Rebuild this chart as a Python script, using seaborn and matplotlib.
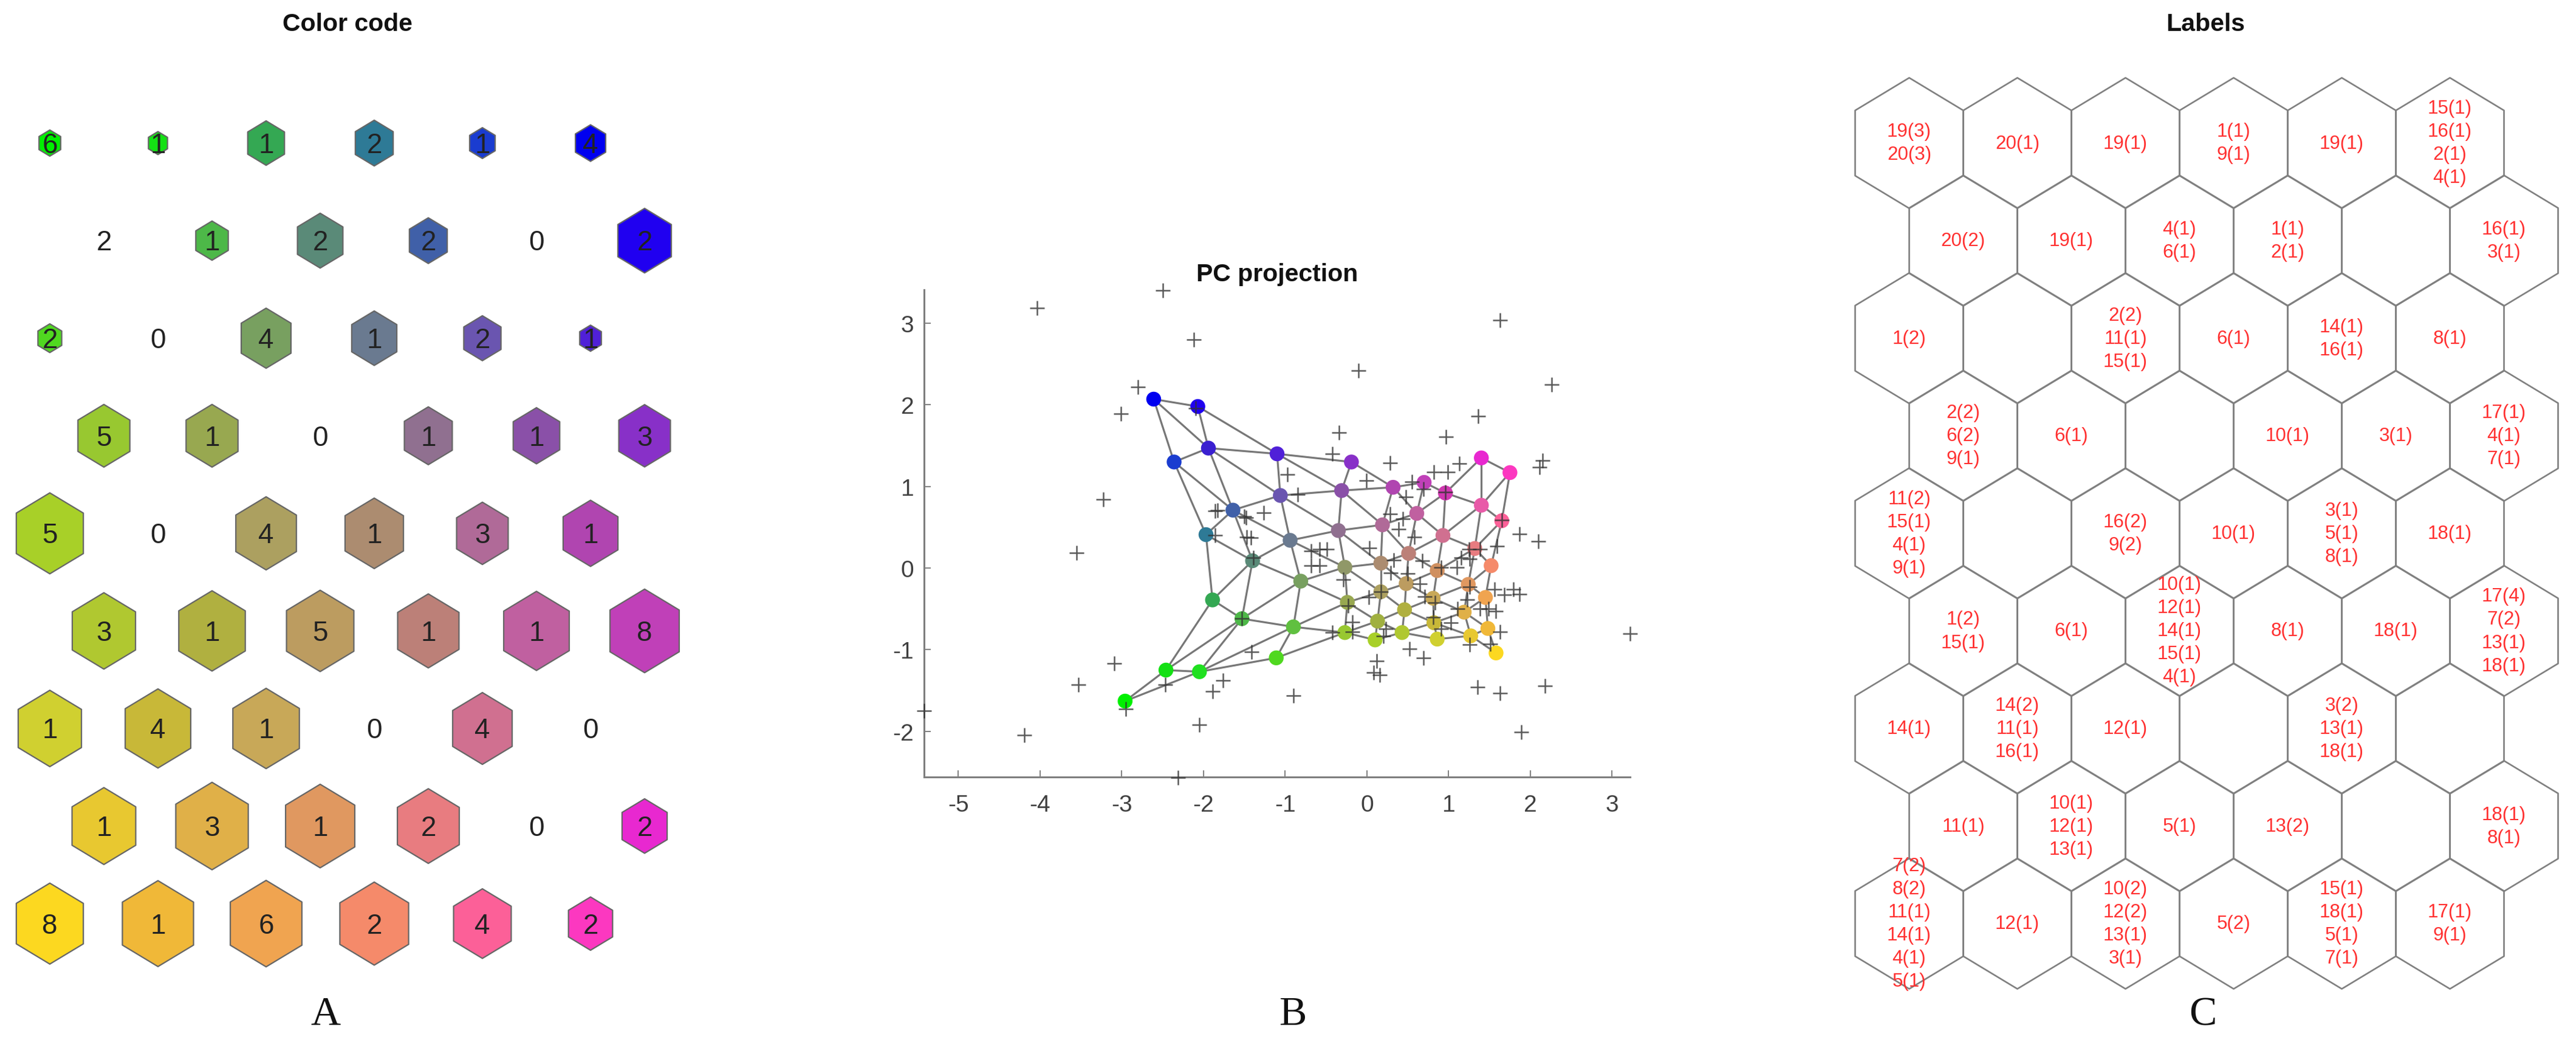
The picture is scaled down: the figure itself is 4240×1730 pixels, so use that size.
import matplotlib
matplotlib.use("Agg")
import matplotlib.pyplot as plt
from matplotlib.collections import PolyCollection
import seaborn as sns
import numpy as np

sns.set_theme(style="white")
plt.rcParams["font.family"] = ["Liberation Sans", "DejaVu Sans"]
plt.rcParams["axes.unicode_minus"] = False

# ---------- data ----------
hits = [
    [6, 1, 1, 2, 1, 4],
    [2, 1, 2, 2, 0, 2],
    [2, 0, 4, 1, 2, 1],
    [5, 1, 0, 1, 1, 3],
    [5, 0, 4, 1, 3, 1],
    [3, 1, 5, 1, 1, 8],
    [1, 4, 1, 0, 4, 0],
    [1, 3, 1, 2, 0, 2],
    [8, 1, 6, 2, 4, 2],
]
hex_scale = [
    [.20, .176, .34, .35, .236, .28],
    [0, .30, .42, .35, 0, .494],
    [.22, 0, .46, .417, .344, .20],
    [.48, .48, 0, .443, .43, .477],
    [.62, 0, .56, .54, .477, .507],
    [.585, .615, .623, .567, .606, .64],
    [.585, .606, .615, 0, .55, 0],
    [.589, .67, .64, .572, 0, .417],
    [.62, .658, .662, .636, .533, .408],
]
node_colors = [
    ["#00f000", "#14e014", "#34a853", "#2e7a96", "#1a3cd0", "#0000f0"],
    ["#20e020", "#4db848", "#5a8a78", "#4060a8", "#3a20d0", "#2000f0"],
    ["#50d820", "#60c040", "#78a060", "#6a7a90", "#6a55b0", "#5020d8"],
    ["#98c830", "#98a850", "#909868", "#907090", "#8a50a8", "#8830c8"],
    ["#a8d028", "#a0b040", "#aca060", "#ac8c70", "#b06a98", "#b045b0"],
    ["#b0c830", "#b0b040", "#bc9c60", "#bc8078", "#c060a0", "#c040b8"],
    ["#d0d030", "#c8b838", "#c8a858", "#d09060", "#d07090", "#d038b0"],
    ["#e8c830", "#e0b048", "#e09860", "#e87c80", "#e85aa8", "#e828d0"],
    ["#fcd820", "#f0b838", "#f0a450", "#f58a6a", "#fc6098", "#fc38c0"],
]
node_pc1 = [
    [-2.96, -2.46, -1.89, -1.97, -2.36, -2.61],
    [-2.05, -1.53, -1.40, -1.64, -1.94, -2.07],
    [-1.11, -.90, -.81, -.94, -1.06, -1.10],
    [-.27, -.24, -.27, -.35, -.31, -.19],
    [.10, .13, .17, .17, .19, .32],
    [.43, .46, .48, .51, .61, .70],
    [.86, .82, .81, .86, .93, .96],
    [1.27, 1.19, 1.24, 1.32, 1.40, 1.40],
    [1.58, 1.48, 1.45, 1.52, 1.65, 1.75],
]
node_pc2 = [
    [-1.63, -1.25, -.39, .41, 1.30, 2.07],
    [-1.27, -.62, .09, .71, 1.47, 1.98],
    [-1.10, -.72, -.16, .34, .89, 1.40],
    [-.79, -.42, .01, .46, .95, 1.30],
    [-.88, -.65, -.29, .06, .53, .99],
    [-.79, -.51, -.19, .18, .67, 1.05],
    [-.87, -.67, -.37, -.03, .40, .92],
    [-.83, -.54, -.20, .24, .77, 1.35],
    [-1.04, -.74, -.36, .03, .58, 1.17],
]
sample_pc1 = [
    -4.04, -2.50, -2.12, -2.80, -3.01, -3.23, -3.55, -1.86, -1.86, -1.42, -2.10, -1.50,
    -3.09, -3.53, -5.42, -2.95, -2.47, -1.76, -1.89, -2.05, -4.19, -2.31, -1.53,
    1.63, 2.26, -.10, 1.36, .97, -.34, -.42, .28, 1.13, .82, .99, 2.15, 2.11, -.97, -.01,
    .55, .69, .96, .48, -.85, -1.83, -1.48, -1.26, .28, .44, .39, 1.65, -1.47, .58, 1.87,
    2.10, .03, -1.39, -.68, -.58, -.49, -.68, -.58, 1.59, 1.25, 1.38, 1.15, 1.26, .33,
    .68, 1.10, .91, .29, -.29, .50, .65, 1.26,
    1.56, 1.79, 1.68, 1.87, .71, 1.23, .17, .02, .83, 1.49, 1.38, 1.58, 1.11, -.23, -.18,
    .81, 1.03, .91, .23, .20, -.18, -.42, 1.63, 1.51, 1.26, .52, .69, .12, -1.41, .08,
    .16, -.90, 1.35, 1.63, 2.18, 1.89, 3.22,
]
sample_pc2 = [
    3.19, 3.40, 2.80, 2.22, 1.89, .84, .19, .70, .40, .37, 1.96, .63,
    -1.17, -1.43, -1.75, -1.73, -1.43, -1.38, -1.51, -1.92, -2.05, -2.57, -.62,
    3.04, 2.25, 2.42, 1.86, 1.61, 1.66, 1.40, 1.29, 1.28, 1.18, 1.18, 1.32, 1.24, 1.15, 1.07,
    1.06, .97, .93, .87, .90, .71, .62, .68, .66, .60, .48, .59, .38, .38, .42,
    .33, .25, .13, .21, .23, .23, .03, .03, .27, .23, .23, .13, .11, .10,
    .09, .01, .01, -.06, -.14, -.07, -.19, -.23,
    -.26, -.26, -.33, -.32, -.35, -.39, -.29, -.36, -.42, -.50, -.50, -.53, -.50, -.46, -.66,
    -.60, -.67, -.74, -.74, -.83, -.78, -.79, -.78, -.93, -.94, -.99, -1.10, -1.14, -1.03, -1.28,
    -1.31, -1.56, -1.46, -1.53, -1.44, -2.01, -.80,
]
x_ticks = [-5, -4, -3, -2, -1, 0, 1, 2, 3]
y_ticks = [-2, -1, 0, 1, 2, 3]
cell_labels = [
    [["19(3)", "20(3)"], ["20(1)"], ["19(1)"], ["1(1)", "9(1)"], ["19(1)"], ["15(1)", "16(1)", "2(1)", "4(1)"]],
    [["20(2)"], ["19(1)"], ["4(1)", "6(1)"], ["1(1)", "2(1)"], [], ["16(1)", "3(1)"]],
    [["1(2)"], [], ["2(2)", "11(1)", "15(1)"], ["6(1)"], ["14(1)", "16(1)"], ["8(1)"]],
    [["2(2)", "6(2)", "9(1)"], ["6(1)"], [], ["10(1)"], ["3(1)"], ["17(1)", "4(1)", "7(1)"]],
    [["11(2)", "15(1)", "4(1)", "9(1)"], [], ["16(2)", "9(2)"], ["10(1)"], ["3(1)", "5(1)", "8(1)"], ["18(1)"]],
    [["1(2)", "15(1)"], ["6(1)"], ["10(1)", "12(1)", "14(1)", "15(1)", "4(1)"], ["8(1)"], ["18(1)"], ["17(4)", "7(2)", "13(1)", "18(1)"]],
    [["14(1)"], ["14(2)", "11(1)", "16(1)"], ["12(1)"], [], ["3(2)", "13(1)", "18(1)"], []],
    [["11(1)"], ["10(1)", "12(1)", "13(1)"], ["5(1)"], ["13(2)"], [], ["18(1)", "8(1)"]],
    [["7(2)", "8(2)", "11(1)", "14(1)", "4(1)", "5(1)"], ["12(1)"], ["10(2)", "12(2)", "13(1)", "3(1)"], ["5(2)"], ["15(1)", "18(1)", "5(1)", "7(1)"], ["17(1)", "9(1)"]],
]

# ---------- layout ----------
W, H = 4240, 1731
N_ROWS, N_COLS = 9, 6
PITCH_X, PITCH_Y = 178.0, 160.6
ROW0_Y = 236.5
fig = plt.figure(figsize=(W / 100, H / 100), dpi=100, facecolor="white")


def grid_axes(x0, x1, col0_px):
    """Axes covering a pixel column range; data units are grid cells."""
    ax = fig.add_axes([x0 / W, 0, (x1 - x0) / W, 1])
    ax.set_xlim((x0 - col0_px) / PITCH_X, (x1 - col0_px) / PITCH_X)
    ax.set_ylim((H - ROW0_Y) / PITCH_Y, -ROW0_Y / PITCH_Y)
    ax.axis("off")
    return ax


def hex_vertices(cx, cy, s):
    dx, dy = .5 * s, .669 * s
    return [(cx - dx, cy - dy / 2), (cx, cy - dy), (cx + dx, cy - dy / 2),
            (cx + dx, cy + dy / 2), (cx, cy + dy), (cx - dx, cy + dy / 2)]


def center(r, c):
    return c + (.5 if r % 2 else 0), r


# ---------- panel A ----------
ax_a = grid_axes(0, 1300, 82)
polys, fills = [], []
for r in range(N_ROWS):
    for c in range(N_COLS):
        cx, cy = center(r, c)
        if hex_scale[r][c] > 0:
            polys.append(hex_vertices(cx, cy, hex_scale[r][c]))
            fills.append(node_colors[r][c])
        ax_a.text(cx, cy + .02, str(hits[r][c]), ha="center", va="center",
                  fontsize=33, color="#222222", zorder=3)
ax_a.add_collection(PolyCollection(polys, facecolors=fills, edgecolors="#666666", linewidths=1.6))

# ---------- panel B ----------
ax_b = fig.add_axes([1521 / W, (H - 1280) / H, (2683 - 1521) / W, (1280 - 478) / H])
ax_b.set_xlim(-5.42, 3.22)
ax_b.set_ylim(-2.56, 3.41)
px, py = np.array(node_pc1), np.array(node_pc2)
for r in range(N_ROWS):
    for c in range(N_COLS):
        links = []
        if c + 1 < N_COLS:
            links.append((r, c + 1))
        if r + 1 < N_ROWS:
            links.append((r + 1, c))
            alt = c + 1 if r % 2 else c - 1
            if 0 <= alt < N_COLS:
                links.append((r + 1, alt))
        for r2, c2 in links:
            ax_b.plot([px[r, c], px[r2, c2]], [py[r, c], py[r2, c2]],
                      color="#777777", lw=2.3, zorder=1, solid_capstyle="round")
flat_ids = [f"{r}-{c}" for r in range(N_ROWS) for c in range(N_COLS)]
flat_cols = [col for row in node_colors for col in row]
sns.scatterplot(x=px.ravel(), y=py.ravel(), hue=flat_ids, palette=flat_cols, s=310,
                linewidth=0, legend=False, ax=ax_b, zorder=2, clip_on=False)
sns.scatterplot(x=sample_pc1, y=sample_pc2, marker="+", color="#333333", s=290,
                linewidth=1.8, alpha=.8, legend=False, ax=ax_b, zorder=3, clip_on=False)
sns.despine(ax=ax_b)
for side in ("left", "bottom"):
    ax_b.spines[side].set_color("#808080")
    ax_b.spines[side].set_linewidth(2.2)
ax_b.set_xticks(x_ticks)
ax_b.set_yticks(y_ticks)
ax_b.tick_params(axis="x", direction="in", length=8, width=1.4, color="#808080",
                 labelsize=28, labelcolor="#404040", pad=20, bottom=True)
ax_b.tick_params(axis="y", direction="in", length=8, width=1.4, color="#808080",
                 labelsize=28, labelcolor="#404040", pad=12, left=True)
ax_b.patch.set_alpha(0)

# ---------- panel C ----------
ax_c = grid_axes(2850, 4240, 3142.5)
polys = [hex_vertices(*center(r, c), 1) for r in range(N_ROWS) for c in range(N_COLS)]
ax_c.add_collection(PolyCollection(polys, facecolors="none", edgecolors="#808080", linewidths=1.9))
LINE_STEP = 38 / PITCH_Y
for r in range(N_ROWS):
    for c in range(N_COLS):
        cx, cy = center(r, c)
        lines = cell_labels[r][c]
        for i, line in enumerate(lines):
            ax_c.text(cx, cy + (i - (len(lines) - 1) / 2) * LINE_STEP, line, ha="center", va="center",
                      fontsize=22.5, color="#ff3030", zorder=3)

# ---------- titles ----------
for txt, x, y in [("Color code", 572, 40), ("PC projection", 2102, 452), ("Labels", 3630, 40)]:
    fig.text(x / W, 1 - y / H, txt, ha="center", va="center", fontsize=29.5,
             fontweight="bold", color="#111111")
for txt, x in [("A", 536), ("B", 2128), ("C", 3626)]:
    fig.text(x / W, 1 - 1671 / H, txt, ha="center", va="center", fontsize=49,
             family=["Liberation Serif"], color="#111111")

fig.savefig("out.png", dpi=100, facecolor="white")
